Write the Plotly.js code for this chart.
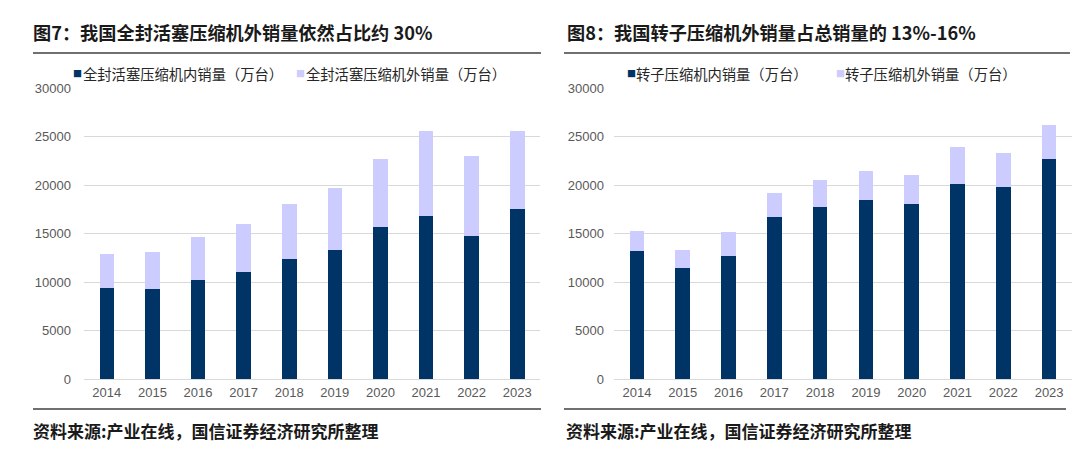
<!DOCTYPE html>
<html>
<head>
<meta charset="utf-8">
<script src="https://cdn.plot.ly/plotly-3.0.1.min.js"></script>
<style>html,body{margin:0;padding:0;background:#fff;}#chart{width:1080px;height:449px;}</style>
</head>
<body>
<div id="chart"></div>
<script>
// ---- data ----
const years = ['2014','2015','2016','2017','2018','2019','2020','2021','2022','2023'];
// Figure 7: hermetic piston compressors (10k units)
const pistonDomestic = [9370, 9260, 10160, 11060, 12370, 13270, 15690, 16760, 14790, 17560];
const pistonExport   = [3520, 3800, 4530, 4940, 5640, 6400, 7020, 8780, 8190, 7980];
// Figure 8: rotary compressors (10k units)
const rotaryDomestic = [13190, 11400, 12680, 16670, 17740, 18430, 18010, 20120, 19840, 22630];
const rotaryExport   = [2030, 1930, 2440, 2550, 2820, 3030, 3070, 3750, 3510, 3550];

const leftTitle = '图7：我国全封活塞压缩机外销量依然占比约 30%';
const rightTitle = '图8：我国转子压缩机外销量占总销量的 13%-16%';
const leftNames = ['全封活塞压缩机内销量（万台）', '全封活塞压缩机外销量（万台）'];
const rightNames = ['转子压缩机内销量（万台）', '转子压缩机外销量（万台）'];
const sourceText = '资料来源:产业在线，国信证券经济研究所整理';
const yTicks = [0, 5000, 10000, 15000, 20000, 25000, 30000];

const navy = '#003366';
const lav = '#ccccff';
const W = 1080, H = 449;
const px = v => v / W;
const py = v => 1 - v / H;
const FONT = 'Liberation Sans, Arial, Noto Sans CJK SC, sans-serif';
const CJK = 'Noto Sans CJK SC, sans-serif';

const traces = [
  {type:'bar', x: years, y: pistonDomestic, name: leftNames[0], marker:{color: navy}, xaxis:'x', yaxis:'y'},
  {type:'bar', x: years, y: pistonExport, name: leftNames[1], marker:{color: lav}, xaxis:'x', yaxis:'y'},
  {type:'bar', x: years, y: rotaryDomestic, name: rightNames[0], marker:{color: navy}, xaxis:'x2', yaxis:'y2'},
  {type:'bar', x: years, y: rotaryExport, name: rightNames[1], marker:{color: lav}, xaxis:'x2', yaxis:'y2'}
];

const yDom = [py(379), py(88)];
const xCommon = {
  type:'category', showgrid:false, zeroline:false, showline:false, ticks:'',
  tickfont:{family: FONT, size: 13, color:'#595959'}, ticklabelstandoff: 4, fixedrange:true
};
const yCommon = {
  range:[0, 30000], tickvals: yTicks, ticktext: yTicks.map(String), showgrid:true, gridcolor:'#d9d9d9', gridwidth:1,
  zeroline:true, zerolinecolor:'#d9d9d9', zerolinewidth:1, showline:false, ticks:'',
  tickfont:{family: FONT, size: 13, color:'#595959'}, fixedrange:true
};

const ann = [];
function text(t, x, y, size, opts) {
  ann.push(Object.assign({text: t, x: px(x), y: py(y), xref:'paper', yref:'paper', xanchor:'left', yanchor:'middle',
    showarrow:false, font:{family: CJK, size: size, color:'#1a1a1a'}}, opts || {}));
}
// titles
text('<b>' + leftTitle + '</b>', 31, 32, 18.2);
text('<b>' + rightTitle + '</b>', 565, 32, 18.2);
// legends
function legendItem(name, color, mx, tx, y) {
  text('■', mx, y, 9, {font:{family: CJK, size: 9, color: color}});
  text(name, tx, y, 14.3, {font:{family: CJK, size: 14.3, color:'#262626'}});
}
legendItem(leftNames[0], navy, 71, 81, 74);
legendItem(leftNames[1], lav, 294, 304, 74);
legendItem(rightNames[0], navy, 625, 634, 74);
legendItem(rightNames[1], lav, 834, 843, 74);
// source
text('<b>' + sourceText + '</b>', 31, 430, 17);
text('<b>' + sourceText + '</b>', 564, 430, 17);

const shapes = [
  {type:'line', xref:'paper', yref:'paper', x0: px(33), x1: px(541), y0: py(53), y1: py(53), line:{color:'#404040', width:1.5}},
  {type:'line', xref:'paper', yref:'paper', x0: px(564), x1: px(1070), y0: py(53), y1: py(53), line:{color:'#404040', width:1.5}},
  {type:'line', xref:'paper', yref:'paper', x0: px(33), x1: px(541), y0: py(409), y1: py(409), line:{color:'#404040', width:1.5}},
  {type:'line', xref:'paper', yref:'paper', x0: px(564), x1: px(1066), y0: py(409), y1: py(409), line:{color:'#404040', width:1.5}}
];

const layout = {
  width: W, height: H, margin:{l:0, r:0, t:0, b:0}, paper_bgcolor:'#fff', plot_bgcolor:'#fff',
  barmode:'stack', bargap: 0.68, showlegend:false,
  xaxis: Object.assign({}, xCommon, {domain:[px(84), px(540)], anchor:'y'}),
  yaxis: Object.assign({}, yCommon, {domain: yDom, anchor:'x', ticklabelstandoff: 12}),
  xaxis2: Object.assign({}, xCommon, {domain:[px(614), px(1072)], anchor:'y2'}),
  yaxis2: Object.assign({}, yCommon, {domain: yDom, anchor:'x2', ticklabelstandoff: 9}),
  annotations: ann, shapes: shapes
};

Plotly.newPlot('chart', traces, layout, {staticPlot:true, displayModeBar:false});
</script>
</body>
</html>
